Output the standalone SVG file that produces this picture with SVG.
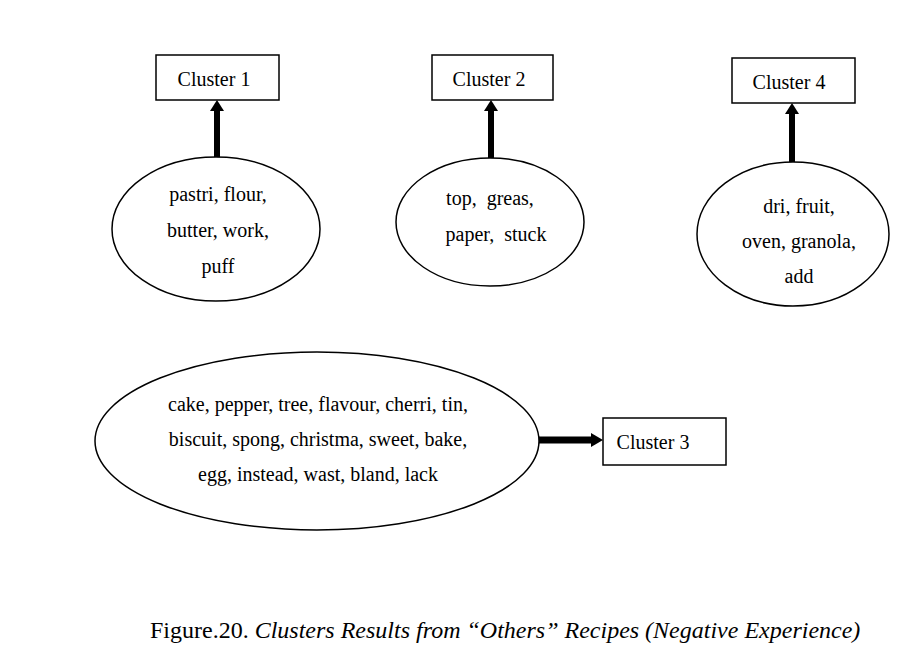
<svg xmlns="http://www.w3.org/2000/svg" width="900" height="651" viewBox="0 0 900 651">
<style>
text{font-family:"Liberation Serif","Times New Roman",serif;fill:#000}
.t{font-size:20px;text-anchor:middle}
.box{fill:#fff;stroke:#000;stroke-width:1.5}
.ell{fill:#fff;stroke:#000;stroke-width:1.5}
.shaft{stroke:#000;stroke-width:6;fill:none}
.head{fill:#000}
</style>
<rect width="900" height="651" fill="#fff"/>
<g id="connectors">
<line class="shaft" x1="217" y1="158" x2="217" y2="110"/>
<polygon class="head" points="217,100 210,111 224,111"/>
<line class="shaft" x1="491" y1="158" x2="491" y2="110"/>
<polygon class="head" points="491,100 484,111 498,111"/>
<line class="shaft" x1="792" y1="162" x2="792" y2="113"/>
<polygon class="head" points="792,103 785,114 799,114"/>
<line x1="539" y1="440" x2="592" y2="440" stroke="#000" stroke-width="7"/>
<polygon class="head" points="603,440 591,433 591,447"/>
</g>
<g id="cluster1">
<rect class="box" x="156" y="55" width="123" height="45"/>
<text class="t" x="214" y="86">Cluster 1</text>
</g>
<g id="cluster2">
<rect class="box" x="432" y="55" width="121" height="45"/>
<text class="t" x="489" y="86">Cluster 2</text>
</g>
<g id="cluster4">
<rect class="box" x="732" y="58" width="123" height="45"/>
<text class="t" x="789" y="89">Cluster 4</text>
</g>
<g id="cluster3">
<rect class="box" x="603" y="418" width="123" height="47"/>
<text class="t" x="653" y="449">Cluster 3</text>
</g>
<g id="terms1">
<ellipse class="ell" cx="216" cy="229" rx="104" ry="72"/>
<text class="t" x="218" y="201">pastri, flour,</text>
<text class="t" x="218" y="237">butter, work,</text>
<text class="t" x="218" y="273">puff</text>
</g>
<g id="terms2">
<ellipse class="ell" cx="490" cy="222" rx="94" ry="64"/>
<text class="t" x="490" y="205" xml:space="preserve">top,  greas,</text>
<text class="t" x="496" y="241" xml:space="preserve">paper,  stuck</text>
</g>
<g id="terms4">
<ellipse class="ell" cx="793" cy="234" rx="96" ry="72"/>
<text class="t" x="799" y="213">dri, fruit,</text>
<text class="t" x="799" y="248">oven, granola,</text>
<text class="t" x="799" y="283">add</text>
</g>
<g id="terms3">
<ellipse class="ell" cx="317" cy="441" rx="222" ry="89"/>
<text class="t" x="318" y="411">cake, pepper, tree, flavour, cherri, tin,</text>
<text class="t" x="318" y="446">biscuit, spong, christma, sweet, bake,</text>
<text class="t" x="318" y="481">egg, instead, wast, bland, lack</text>
</g>
<text x="150" y="638" font-size="24">Figure.20. <tspan font-style="italic">Clusters Results from “Others” Recipes (Negative Experience)</tspan></text>
</svg>
